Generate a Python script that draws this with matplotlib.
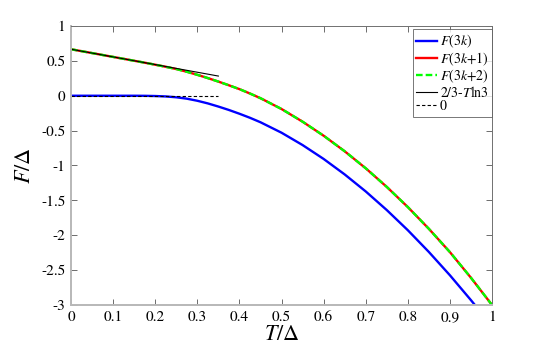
import matplotlib
matplotlib.use("Agg")
import matplotlib.pyplot as plt

plt.rcParams['font.family'] = ['STIXGeneral', 'Liberation Serif', 'DejaVu Serif']
plt.rcParams['mathtext.fontset'] = 'stix'
plt.rcParams['axes.unicode_minus'] = False

# Temperature grid (T/Delta)
T = [0.0, 0.05, 0.1, 0.15, 0.175, 0.2, 0.225, 0.25, 0.275, 0.3, 0.325, 0.35,
     0.375, 0.4, 0.425, 0.45, 0.5, 0.55, 0.6, 0.65, 0.7, 0.75, 0.8, 0.85,
     0.9, 0.95, 1.0]

# F(3k): blue, ends slightly before T=1
T_3k = [0.0, 0.05, 0.1, 0.15, 0.175, 0.2, 0.225, 0.25, 0.275, 0.3, 0.325, 0.35,
        0.375, 0.4, 0.425, 0.45, 0.5, 0.55, 0.6, 0.65, 0.7, 0.75, 0.8, 0.85,
        0.9, 0.95, 0.96]
F_3k = [0.0, 0.0, 0.0, 0.0, -0.001, -0.004, -0.010, -0.022, -0.042, -0.072, -0.110, -0.155,
        -0.204, -0.258, -0.316, -0.380, -0.530, -0.707, -0.906, -1.128, -1.372, -1.639,
        -1.928, -2.240, -2.574, -2.931, -3.005]

# F(3k+1) and F(3k+2) coincide
F_3k1 = [0.6667, 0.6117, 0.5568, 0.5015, 0.474, 0.445, 0.415, 0.383, 0.344, 0.300, 0.253, 0.203,
         0.150, 0.095, 0.032, -0.035, -0.190, -0.372, -0.573, -0.796, -1.040, -1.307,
         -1.596, -1.908, -2.242, -2.610, -3.000]
F_3k2 = list(F_3k1)

# Low-temperature asymptotes
T_asym = [0.0, 0.35]
F_line = [0.6667, 0.2822]   # 2/3 - T ln3
F_zero = [0.0, 0.0]

xticks = [0, 0.1, 0.2, 0.3, 0.4, 0.5, 0.6, 0.7, 0.8, 0.9, 1]
xticklabels = ['0', '0.1', '0.2', '0.3', '0.4', '0.5', '0.6', '0.7', '0.8', '0.9', '1']
yticks = [1, 0.5, 0, -0.5, -1, -1.5, -2, -2.5, -3]
yticklabels = ['1', '0.5', '0', '-0.5', '-1', '-1.5', '-2', '-2.5', '-3']

fig = plt.figure(figsize=(5.45, 3.48), dpi=100)
ax = fig.add_axes([0.1303, 0.1236, 0.7725, 0.8017])

ax.plot(T_3k, F_3k, color='#0000ff', lw=1.7, label=r'$F$(3$k$)')
ax.plot(T, F_3k1, color='#ff0000', lw=1.7, label=r'$F$(3$k$+1)')
ax.plot(T, F_3k2, color='#00ff00', lw=1.7, linestyle=(0, (2.8, 1.3)),
        label=r'$F$(3$k$+2)')
ax.plot(T_asym, F_line, color='black', lw=0.8, label=r'2/3-$T$ln3')
ax.plot(T_asym, F_zero, color='black', lw=0.8, linestyle=(0, (3, 2)), label='0')

ax.set_xlim(0, 1)
ax.set_ylim(-3, 1)
ax.set_xticks(xticks)
ax.set_xticklabels(xticklabels)
ax.set_yticks(yticks)
ax.set_yticklabels(yticklabels)
ax.tick_params(direction='in', top=True, right=True, length=4, width=0.6,
               color='#555555', labelsize=11, pad=4)

for side in ['left', 'bottom']:
    ax.spines[side].set_color('#b8b8b8')
    ax.spines[side].set_linewidth(1.4)
for side in ['top', 'right']:
    ax.spines[side].set_color('#707070')
    ax.spines[side].set_linewidth(0.7)

ax.set_xlabel(r'$T/\Delta$', fontsize=16, labelpad=1)
ax.set_ylabel(r'$F/\Delta$', fontsize=16)
ax.yaxis.set_label_coords(-0.085, 0.5)

leg = ax.legend(loc='upper right', bbox_to_anchor=(1.0, 0.988), fontsize=10,
                frameon=True, fancybox=False, borderaxespad=0.0,
                handlelength=1.5, handletextpad=0.2, labelspacing=0.0,
                borderpad=0.25)
leg.get_frame().set_edgecolor('#555555')
leg.get_frame().set_linewidth(0.7)

fig.savefig('out.png', dpi=100)
